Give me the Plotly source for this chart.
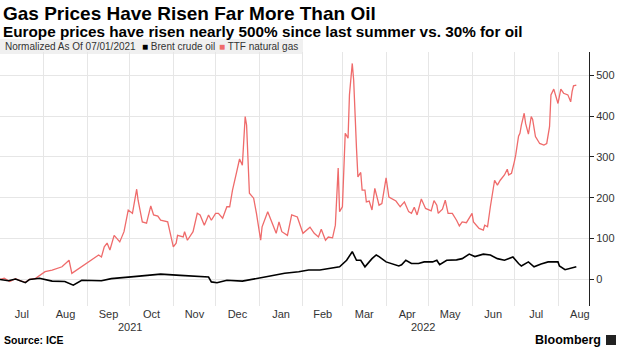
import plotly.graph_objects as go

# ---- data (normalized % change since 07/01/2021) ----
gas_dates = [
    "2021-07-01", "2021-07-04", "2021-07-08", "2021-07-12", "2021-07-15", "2021-07-19",
    "2021-07-22", "2021-07-26", "2021-08-02", "2021-08-07", "2021-08-14", "2021-08-19",
    "2021-08-21", "2021-08-28", "2021-09-02", "2021-09-09", "2021-09-11", "2021-09-13",
    "2021-09-15", "2021-09-17", "2021-09-20", "2021-09-24", "2021-09-27", "2021-09-30",
    "2021-10-03", "2021-10-06", "2021-10-07", "2021-10-10", "2021-10-13", "2021-10-16",
    "2021-10-18", "2021-10-21", "2021-10-23", "2021-10-28", "2021-11-01", "2021-11-03",
    "2021-11-04", "2021-11-08", "2021-11-09", "2021-11-11", "2021-11-15", "2021-11-18",
    "2021-11-20", "2021-11-23", "2021-11-26", "2021-11-28", "2021-12-01", "2021-12-03",
    "2021-12-06", "2021-12-09", "2021-12-11", "2021-12-13", "2021-12-16", "2021-12-18",
    "2021-12-20", "2021-12-22", "2021-12-23", "2021-12-25", "2021-12-28", "2021-12-30",
    "2022-01-02", "2022-01-03", "2022-01-07", "2022-01-10", "2022-01-13", "2022-01-15",
    "2022-01-17", "2022-01-21", "2022-01-24", "2022-01-28", "2022-02-01", "2022-02-06",
    "2022-02-09", "2022-02-12", "2022-02-14", "2022-02-17", "2022-02-19", "2022-02-22",
    "2022-02-24", "2022-02-26", "2022-02-27", "2022-03-01", "2022-03-03", "2022-03-05",
    "2022-03-06", "2022-03-08", "2022-03-09", "2022-03-11", "2022-03-12", "2022-03-14",
    "2022-03-15", "2022-03-17", "2022-03-18", "2022-03-20", "2022-03-22", "2022-03-24",
    "2022-03-27", "2022-03-29", "2022-04-01", "2022-04-03", "2022-04-08", "2022-04-11",
    "2022-04-14", "2022-04-17", "2022-04-19", "2022-04-21", "2022-04-23", "2022-04-26",
    "2022-04-29", "2022-05-03", "2022-05-05", "2022-05-07", "2022-05-08", "2022-05-11",
    "2022-05-13", "2022-05-15", "2022-05-18", "2022-05-21", "2022-05-23", "2022-05-25",
    "2022-05-28", "2022-06-01", "2022-06-02", "2022-06-06", "2022-06-09", "2022-06-10",
    "2022-06-12", "2022-06-14", "2022-06-16", "2022-06-17", "2022-06-19", "2022-06-21",
    "2022-06-24", "2022-06-26", "2022-06-27", "2022-06-29", "2022-07-01", "2022-07-02",
    "2022-07-04", "2022-07-05", "2022-07-06", "2022-07-08", "2022-07-09", "2022-07-11",
    "2022-07-13", "2022-07-14", "2022-07-16", "2022-07-19", "2022-07-22", "2022-07-24",
    "2022-07-26", "2022-07-27", "2022-07-29", "2022-08-01", "2022-08-03", "2022-08-05",
    "2022-08-08", "2022-08-10", "2022-08-11", "2022-08-12", "2022-08-14",
]
gas_values = [
    0, 3, -5, 2, -3, -7,
    0, 2, 19, 23, 31, 47,
    15, 31, 43, 60, 55, 80,
    89, 72, 108, 92, 117, 170,
    162, 221, 194, 141, 138, 180,
    158, 155, 145, 141, 80, 89,
    108, 104, 117, 96, 117, 162,
    158, 133, 158, 145, 162, 162,
    150, 178, 178, 219, 264, 295,
    280, 399, 378, 211, 199, 162,
    96, 129, 166, 138, 113, 141,
    117, 108, 158, 153, 113, 128,
    113, 104, 123, 96, 104, 102,
    133, 273, 166, 178, 358, 346,
    452, 529, 488, 321, 251, 262,
    219, 219, 190, 192, 170, 223,
    182, 186, 249, 202, 192, 178,
    190, 166, 162, 177, 158, 197,
    174, 168, 193, 182, 162, 172,
    194, 162, 162, 145, 131, 141,
    139, 162, 141, 125, 121, 133,
    129, 178, 227, 243, 231, 243,
    256, 270, 256, 260, 288, 305,
    351, 358, 378, 407, 382, 356,
    399, 392, 350, 333, 329, 333,
    374, 452, 466, 431, 466, 456,
    452, 435, 460, 474, 476,
]

oil_dates = [
    "2021-07-01", "2021-07-07", "2021-07-12", "2021-07-19", "2021-07-22", "2021-07-29",
    "2021-08-07", "2021-08-16", "2021-08-22", "2021-08-28", "2021-09-11", "2021-09-18",
    "2021-10-04", "2021-10-23", "2021-11-06", "2021-11-23", "2021-11-26", "2021-11-28",
    "2021-12-02", "2021-12-09", "2021-12-20", "2022-01-05", "2022-01-19", "2022-01-29",
    "2022-02-05", "2022-02-13", "2022-02-27", "2022-03-04", "2022-03-08", "2022-03-11",
    "2022-03-14", "2022-03-17", "2022-03-22", "2022-03-25", "2022-03-27", "2022-04-01",
    "2022-04-05", "2022-04-10", "2022-04-12", "2022-04-15", "2022-04-19", "2022-04-24",
    "2022-04-28", "2022-05-04", "2022-05-07", "2022-05-09", "2022-05-14", "2022-05-21",
    "2022-05-25", "2022-05-30", "2022-06-03", "2022-06-09", "2022-06-14", "2022-06-19",
    "2022-06-24", "2022-06-30", "2022-07-04", "2022-07-06", "2022-07-11", "2022-07-15",
    "2022-07-20", "2022-07-25", "2022-08-01", "2022-08-02", "2022-08-06", "2022-08-10",
    "2022-08-14",
]
oil_values = [
    0, -3, 1, -8, 0, 3,
    -4, -5, -14, -2, -3, 2,
    7, 13, 10, 6, 6, -6,
    -8, -2, -4, 6, 15, 19,
    23, 23, 31, 47, 68, 47,
    47, 31, 51, 60, 56, 43,
    39, 33, 36, 47, 39, 39,
    43, 43, 47, 36, 47, 48,
    51, 62, 56, 62, 60, 51,
    47, 55, 39, 33, 43, 31,
    38, 43, 43, 33, 24, 27,
    31,
]

series_names = ["Brent crude oil", "TTF natural gas"]
series_colors = ["#000000", "#ef6b6b"]
y_ticks = [0, 100, 200, 300, 400, 500]
year_labels = ["2021", "2022"]
year_label_dates = ["2021-10-01", "2022-04-27"]

title = "Gas Prices Have Risen Far More Than Oil"
subtitle = "Europe prices have risen nearly 500% since last summer vs. 30% for oil"
legend_title = "Normalized As Of 07/01/2021"
source = "Source: ICE"

# ---- figure ----
fig = go.Figure()
fig.add_trace(go.Scatter(x=gas_dates, y=gas_values, mode="lines", name=series_names[1],
                         line=dict(color=series_colors[1], width=1.3), showlegend=False))
fig.add_trace(go.Scatter(x=oil_dates, y=oil_values, mode="lines", name=series_names[0],
                         line=dict(color=series_colors[0], width=1.6), showlegend=False))

W, H = 620, 348
ml, mr, mt, mb = 0, 31, 52, 42
ph = H - mt - mb
pw = W - ml - mr

def py(px):  # pixel y -> paper y
    return (H - mb - px) / ph

def pxx(px):
    return (px - ml) / pw

tick_font = dict(family="Liberation Sans, Arial, sans-serif", size=11, color="#333333")
legend_font = dict(family="Liberation Sans Narrow, Arial Narrow, sans-serif", size=10, color="#333333")

fig.update_layout(
    width=W, height=H,
    margin=dict(l=ml, r=mr, t=mt, b=mb),
    paper_bgcolor="white", plot_bgcolor="white",
    showlegend=False,
    xaxis=dict(
        type="date",
        range=["2021-07-01", "2022-08-23"],
        tick0="2021-07-01", dtick="M1", tickformat="%b",
        ticklabelmode="period",
        showgrid=True, gridcolor="#e6e6e6", gridwidth=1,
        showline=False, zeroline=False, ticks="",
        tickfont=tick_font,
    ),
    yaxis=dict(
        range=[-65, 557],
        side="right",
        tickvals=y_ticks,
        showgrid=True, gridcolor="#e6e6e6", gridwidth=1,
        zeroline=False,
        showline=True, linecolor="#222222", linewidth=1,
        ticks="outside", ticklen=4, tickcolor="#222222",
        tickfont=tick_font,
    ),
)

annotations = [
    dict(text=f"<b>{title}</b>", x=0, y=py(13), xref="paper", yref="paper",
         xanchor="left", yanchor="middle", showarrow=False, xshift=1,
         font=dict(family="Liberation Sans Narrow, Arial Narrow, sans-serif", size=19, color="#000000")),
    dict(text=f"<b>{subtitle}</b>", x=0, y=py(32), xref="paper", yref="paper",
         xanchor="left", yanchor="middle", showarrow=False, xshift=1,
         font=dict(family="Liberation Sans, Arial, sans-serif", size=15.3, color="#000000")),
    dict(text=legend_title, x=pxx(3), y=py(46.5), xref="paper", yref="paper",
         xanchor="left", yanchor="middle", showarrow=False, font=legend_font),
    dict(text=f"<span style='color:{series_colors[0]}'>■</span> {series_names[0]}",
         x=pxx(140), y=py(46.5), xref="paper", yref="paper",
         xanchor="left", yanchor="middle", showarrow=False, font=legend_font),
    dict(text=f"<span style='color:{series_colors[1]}'>■</span> {series_names[1]}",
         x=pxx(217), y=py(46.5), xref="paper", yref="paper",
         xanchor="left", yanchor="middle", showarrow=False, font=legend_font),
    dict(text=f"<b>{source}</b>", x=0, y=py(340), xref="paper", yref="paper",
         xanchor="left", yanchor="middle", showarrow=False, xshift=2,
         font=dict(family="Liberation Sans, Arial, sans-serif", size=10.5, color="#000000")),
    dict(text="<b>Bloomberg</b>", x=pxx(603), y=py(340), xref="paper", yref="paper",
         xanchor="right", yanchor="middle", showarrow=False,
         font=dict(family="Liberation Sans, Arial, sans-serif", size=12.5, color="#000000")),
]
for lbl, d in zip(year_labels, year_label_dates):
    annotations.append(dict(text=lbl, x=d, xref="x", y=py(327), yref="paper",
                            xanchor="center", yanchor="middle", showarrow=False,
                            font=tick_font))
fig.update_layout(annotations=annotations)

fig.add_shape(type="rect", xref="paper", yref="paper",
              x0=0, x1=pxx(303), y0=py(54), y1=py(39),
              fillcolor="#f0f0f0", line=dict(width=0), layer="below")
# Bloomberg logo mark
fig.add_shape(type="rect", xref="paper", yref="paper",
              x0=pxx(606), x1=pxx(616), y0=py(345), y1=py(335),
              fillcolor="#222222", line=dict(width=0))

fig.write_html("out.html")
